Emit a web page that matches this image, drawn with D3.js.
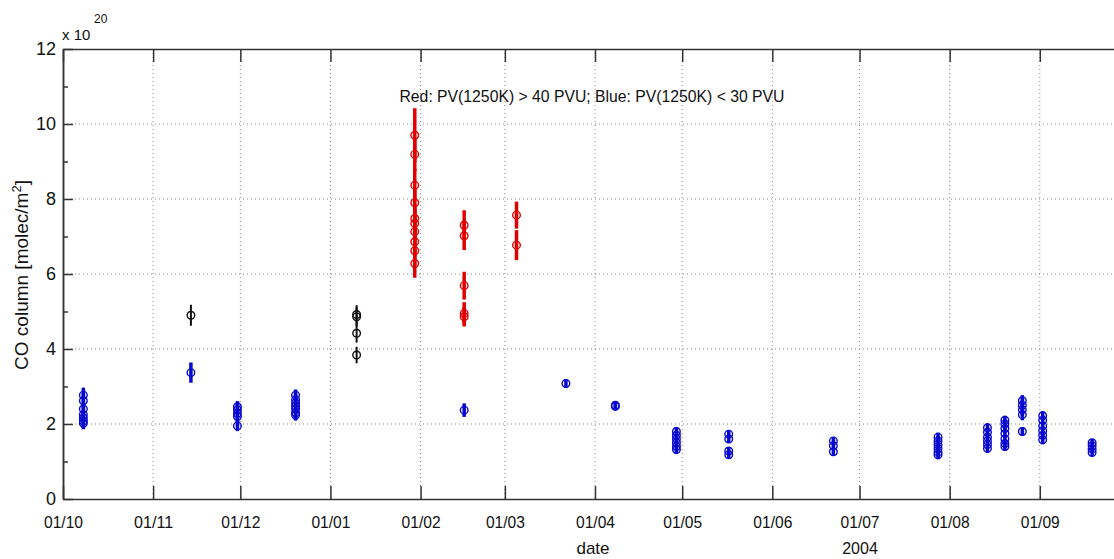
<!DOCTYPE html>
<html>
<head>
<meta charset="utf-8">
<script src="https://cdn.jsdelivr.net/npm/d3@7"></script>
<style>
  body { margin: 0; background: #fff; }
  svg text { font-family: "Liberation Sans", Arial, Helvetica, sans-serif; fill: #111; }
</style>
</head>
<body>
<div id="chart"></div>
<script>
// CO column (x 1e20 molec/m2), date, error
var blueDates = ["2003-10-08","2003-10-08","2003-10-08","2003-10-08","2003-10-08","2003-10-08","2003-10-08",
  "2003-11-14",
  "2003-11-30","2003-11-30","2003-11-30","2003-11-30","2003-11-30",
  "2003-12-20","2003-12-20","2003-12-20","2003-12-20","2003-12-20","2003-12-20","2003-12-20",
  "2004-02-16",
  "2004-03-22",
  "2004-04-08","2004-04-08",
  "2004-04-29","2004-04-29","2004-04-29","2004-04-29","2004-04-29","2004-04-29",
  "2004-05-17","2004-05-17","2004-05-17","2004-05-17",
  "2004-06-22","2004-06-22","2004-06-22",
  "2004-07-28","2004-07-28","2004-07-28","2004-07-28","2004-07-28","2004-07-28",
  "2004-08-14","2004-08-14","2004-08-14","2004-08-14","2004-08-14","2004-08-14",
  "2004-08-20","2004-08-20","2004-08-20","2004-08-20","2004-08-20","2004-08-20","2004-08-20",
  "2004-08-26","2004-08-26","2004-08-26","2004-08-26","2004-08-26",
  "2004-09-02","2004-09-02","2004-09-02","2004-09-02","2004-09-02","2004-09-02",
  "2004-09-19","2004-09-19","2004-09-19","2004-09-19"];
var blueCO = [2.77,2.62,2.40,2.25,2.16,2.08,2.02,
  3.37,
  2.46,2.38,2.28,2.20,1.95,
  2.77,2.65,2.56,2.48,2.40,2.30,2.24,
  2.37,
  3.08,
  2.47,2.50,
  1.80,1.70,1.60,1.50,1.40,1.32,
  1.73,1.60,1.28,1.18,
  1.55,1.42,1.26,
  1.65,1.55,1.45,1.35,1.25,1.18,
  1.90,1.78,1.65,1.55,1.45,1.35,
  2.10,2.00,1.88,1.75,1.60,1.48,1.40,
  2.62,2.50,2.38,2.25,1.80,
  2.22,2.10,1.95,1.82,1.70,1.58,
  1.50,1.42,1.33,1.24];
var blueErr = [0.20,0.20,0.20,0.18,0.18,0.18,0.16,
  0.27,
  0.15,0.15,0.15,0.15,0.14,
  0.15,0.15,0.15,0.15,0.15,0.15,0.15,
  0.18,
  0.12,
  0.10,0.10,
  0.12,0.12,0.12,0.12,0.12,0.12,
  0.10,0.10,0.10,0.10,
  0.10,0.10,0.10,
  0.12,0.12,0.12,0.12,0.12,0.12,
  0.12,0.12,0.12,0.12,0.12,0.12,
  0.12,0.12,0.12,0.12,0.12,0.12,0.12,
  0.15,0.15,0.15,0.15,0.12,
  0.12,0.12,0.12,0.12,0.12,0.12,
  0.10,0.10,0.10,0.10];

var blackDates = ["2003-11-14","2004-01-10","2004-01-10","2004-01-10","2004-01-10"];
var blackCO = [4.90,4.92,4.86,4.42,3.84];
var blackErr = [0.28,0.25,0.25,0.25,0.22];

var redDates = ["2004-01-30","2004-01-30","2004-01-30","2004-01-30","2004-01-30","2004-01-30","2004-01-30","2004-01-30","2004-01-30","2004-01-30",
  "2004-02-16","2004-02-16","2004-02-16","2004-02-16","2004-02-16",
  "2004-03-05","2004-03-05"];
var redCO = [9.70,9.19,8.37,7.90,7.48,7.35,7.13,6.86,6.62,6.28,
  7.30,7.02,5.69,4.95,4.86,
  7.57,6.77];
var redErr = [0.72,0.45,0.45,0.40,0.40,0.40,0.40,0.40,0.40,0.38,
  0.40,0.38,0.37,0.30,0.26,
  0.36,0.40];

var monthTicks = ["2003-10-01","2003-11-01","2003-12-01","2004-01-01","2004-02-01","2004-03-01",
  "2004-04-01","2004-05-01","2004-06-01","2004-07-01","2004-08-01","2004-09-01"];
var yTicks = [0,2,4,6,8,10,12];
var yMinorTicks = [1,3,5,7,9,11];

var title = "Red: PV(1250K) > 40 PVU; Blue: PV(1250K) < 30 PVU";

var parseDate = d3.timeParse("%Y-%m-%d");
var fmt = d3.timeFormat("%d/%m");

var width = 1114, height = 559;
var margin = {top: 49, left: 63};
var plotW = 1064, plotH = 450;

var svg = d3.select("#chart").append("svg")
    .attr("width", width)
    .attr("height", height);

var x = d3.scaleTime()
    .domain([parseDate("2003-10-01"), parseDate("2004-10-01")])
    .range([0, plotW]);
var y = d3.scaleLinear()
    .domain([0, 12])
    .range([plotH, 0]);

var g = svg.append("g")
    .attr("transform", "translate(" + margin.left + "," + margin.top + ")");

// grid
var grid = g.append("g").attr("class", "grid");
grid.selectAll(".vgrid")
    .data(monthTicks.slice(1))
    .enter().append("line")
    .attr("x1", function(d){ return x(parseDate(d)); })
    .attr("x2", function(d){ return x(parseDate(d)); })
    .attr("y1", 0).attr("y2", plotH)
    .attr("stroke", "#888").attr("stroke-width", 1)
    .attr("stroke-dasharray", "1,3");
grid.selectAll(".hgrid")
    .data(yTicks.slice(1, -1))
    .enter().append("line")
    .attr("x1", 0).attr("x2", plotW)
    .attr("y1", function(d){ return y(d); })
    .attr("y2", function(d){ return y(d); })
    .attr("stroke", "#888").attr("stroke-width", 1)
    .attr("stroke-dasharray", "1,3");

// axes
var xAxis = d3.axisBottom(x)
    .tickValues(monthTicks.map(parseDate))
    .tickFormat(fmt)
    .tickSizeInner(-13).tickSizeOuter(0).tickPadding(18);
var xAxisTop = d3.axisTop(x)
    .tickValues(monthTicks.map(parseDate))
    .tickFormat("")
    .tickSizeInner(-13).tickSizeOuter(0);
var yAxis = d3.axisLeft(y)
    .tickValues(yTicks)
    .tickSizeInner(-10).tickSizeOuter(0).tickPadding(7);
var yMinor = d3.axisLeft(y)
    .tickValues(yMinorTicks)
    .tickFormat("")
    .tickSizeInner(-5).tickSizeOuter(0);

g.append("g").attr("class", "x axis")
    .attr("transform", "translate(0," + plotH + ")")
    .call(xAxis);
g.append("g").attr("class", "x axis top").call(xAxisTop);
g.append("g").attr("class", "y axis").call(yAxis);
g.append("g").attr("class", "y axis minor").call(yMinor);

g.selectAll(".axis path, .axis line")
    .attr("stroke", "#333").attr("stroke-width", 1.5);
g.selectAll(".x.axis text")
    .style("font-size", "16px").attr("fill", "#111")
    .attr("textLength", 39).attr("lengthAdjust", "spacingAndGlyphs");
g.selectAll(".y.axis text")
    .style("font-size", "18px").attr("fill", "#111");

// error bars + circles
function drawSeries(dates, vals, errs, color, barW){
  var pts = dates.map(function(d, i){ return {t: parseDate(d), v: vals[i], e: errs[i]}; });
  var s = g.append("g");
  s.selectAll(".eb")
    .data(pts)
    .enter().append("line")
    .attr("x1", function(d){ return x(d.t); })
    .attr("x2", function(d){ return x(d.t); })
    .attr("y1", function(d){ return y(d.v - d.e); })
    .attr("y2", function(d){ return y(d.v + d.e); })
    .attr("stroke", color).attr("stroke-width", barW);
  s.selectAll(".pt")
    .data(pts)
    .enter().append("circle")
    .attr("cx", function(d){ return x(d.t); })
    .attr("cy", function(d){ return y(d.v); })
    .attr("r", 3.8)
    .attr("fill", "none")
    .attr("stroke", color).attr("stroke-width", 1.4);
}
drawSeries(blueDates, blueCO, blueErr, "#0808d0", 3.5);
drawSeries(blackDates, blackCO, blackErr, "#111", 2);
drawSeries(redDates, redCO, redErr, "#e00000", 3.5);

// texts
svg.append("text")
    .attr("x", 592).attr("y", 102)
    .attr("text-anchor", "middle")
    .style("font-size", "17px")
    .attr("textLength", 385).attr("lengthAdjust", "spacingAndGlyphs")
    .text(title);

svg.append("text").attr("x", 62).attr("y", 40).style("font-size", "15px").text("x 10");
svg.append("text").attr("x", 94).attr("y", 23).style("font-size", "12px").text("20");

svg.append("text")
    .attr("x", 593).attr("y", 554)
    .attr("text-anchor", "middle")
    .style("font-size", "17px")
    .text("date");
svg.append("text")
    .attr("x", 860).attr("y", 554)
    .attr("text-anchor", "middle")
    .style("font-size", "16px")
    .text("2004");

var yl = svg.append("text")
    .attr("transform", "translate(28,275) rotate(-90)")
    .attr("text-anchor", "middle")
    .style("font-size", "19px");
yl.append("tspan").text("CO column [molec/m");
yl.append("tspan").attr("dy", -7).style("font-size", "13px").text("2");
yl.append("tspan").attr("dy", 7).text("]");
</script>
</body>
</html>
